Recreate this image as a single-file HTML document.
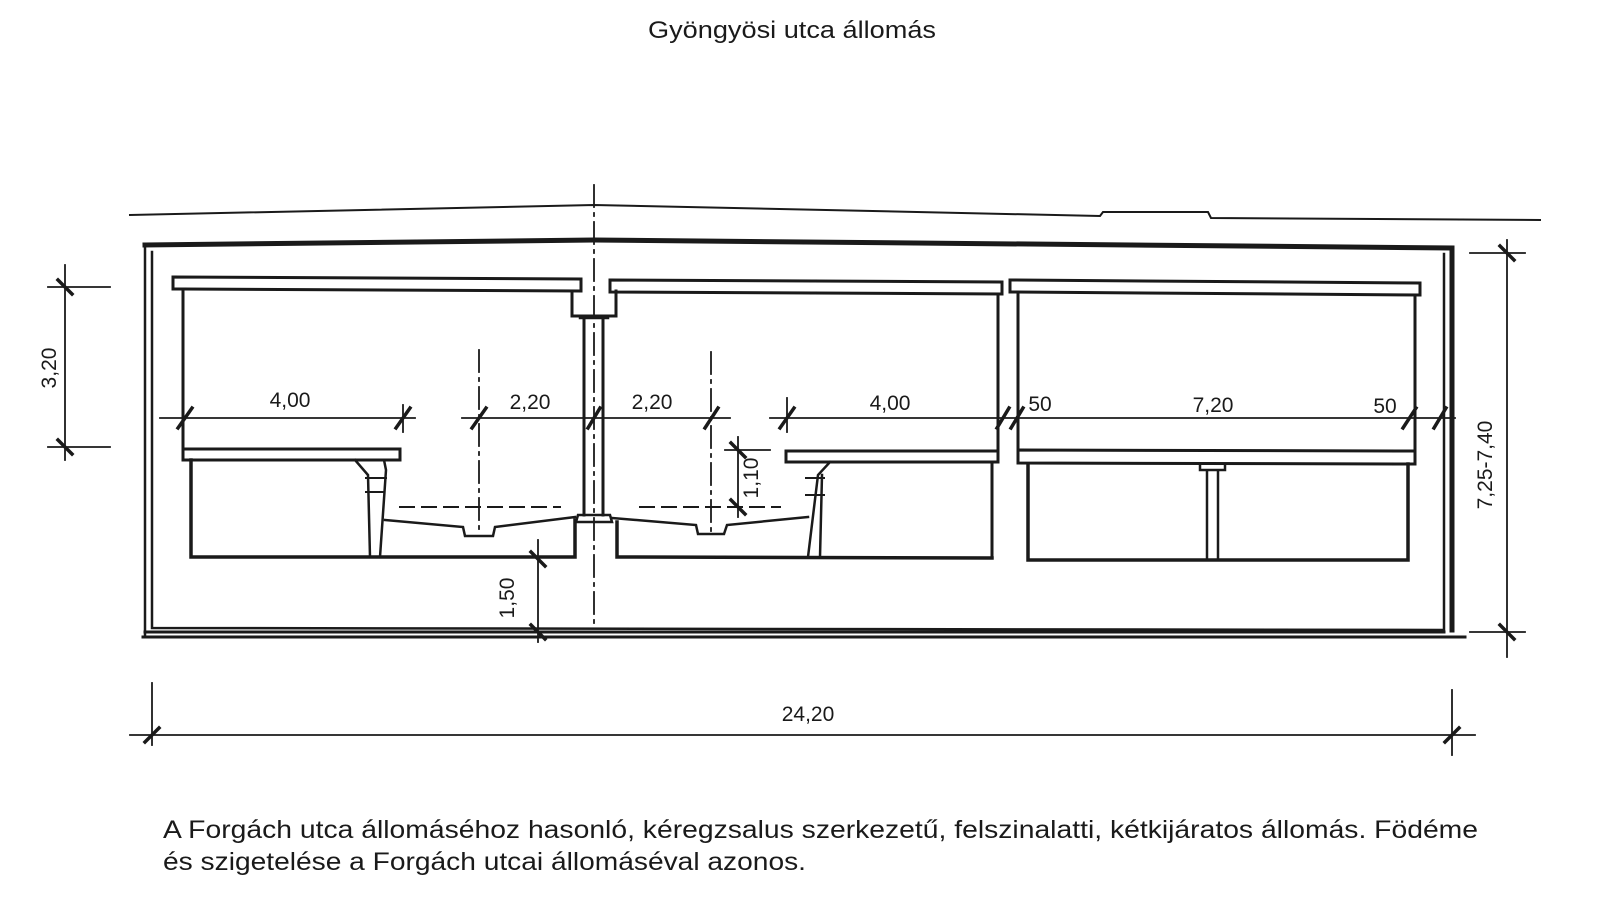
<!DOCTYPE html>
<html><head><meta charset="utf-8"><style>
html,body{margin:0;padding:0;background:#fff;}
svg{display:block}
text{font-family:"Liberation Sans",sans-serif;fill:#1a1a1a}
</style></head><body>
<svg width="1600" height="919" viewBox="0 0 1600 919" xmlns="http://www.w3.org/2000/svg">
<g stroke="#1a1a1a" fill="none" stroke-linecap="square">
<!-- ground line -->
<polyline points="130,215 594,205 1100,216 1103,212 1208,212 1211,218 1540,220" stroke-width="2"/>
<!-- outer box -->
<path d="M145,245 L594,240 L1452,248 L1452,630" stroke-width="5"/>
<path d="M145,245 L145,637" stroke-width="2.5"/>
<path d="M152,252 L152,628 L1444,630 L1444,254" stroke-width="2.5"/>
<path d="M143,637 L1465,637" stroke-width="3"/>
<path d="M145,632 L1444,632" stroke-width="3"/>
<!-- center axis -->
<line x1="594" y1="185" x2="594" y2="625" stroke-width="1.8" stroke-dasharray="22,6,3,6"/>

<!-- LEFT MODULE -->
<path d="M173,277 L581,279 L581,291 L183,289 L173,289 Z" stroke-width="3"/>
<line x1="183" y1="289" x2="183" y2="458" stroke-width="3"/>
<path d="M183,449 L400,449 L400,460 L183,460 Z" stroke-width="3"/>
<path d="M191,460 L191,557 L575,557 L575,520" stroke-width="3.5"/>
<path d="M355,460 L368,475 L370,557 M384,460 L386,470 L380,557" stroke-width="2.5"/>
<path d="M366,478 L386,478 M366,492 L384,492" stroke-width="2"/>
<path d="M385,520 L463,527 L465,536 L493,536 L495,527 L575,517" stroke-width="2.5"/>
<line x1="400" y1="507" x2="560" y2="507" stroke-width="2" stroke-dasharray="14,8"/>
<line x1="479" y1="350" x2="479" y2="535" stroke-width="1.8" stroke-dasharray="22,6,3,6"/>
<!-- center column -->
<path d="M572,291 L572,316 L616,316 L616,291" stroke-width="3"/>
<path d="M584,318 L584,515 M603,318 L603,515" stroke-width="3"/>
<path d="M580,318 L608,318 M578,515 L610,515 L612,522 L576,522 Z" stroke-width="2.5"/>
<path d="M617,522 L617,557 L992,558" stroke-width="3.5"/>

<!-- MIDDLE MODULE -->
<path d="M610,280 L1002,282 L1002,294 L610,292 Z" stroke-width="3"/>
<line x1="998" y1="294" x2="998" y2="462" stroke-width="3"/>
<path d="M786,451 L998,451 L998,462 L786,462 Z" stroke-width="3"/>
<line x1="992" y1="462" x2="992" y2="558" stroke-width="3"/>
<path d="M830,462 L818,475 L808,557 M822,475 L820,557" stroke-width="2.5"/>
<path d="M806,478 L824,478 M806,495 L824,495" stroke-width="2"/>
<path d="M612,518 L696,525 L698,534 L724,534 L727,525 L808,517" stroke-width="2.5"/>
<line x1="640" y1="507" x2="780" y2="507" stroke-width="2" stroke-dasharray="14,8"/>
<line x1="711" y1="352" x2="711" y2="535" stroke-width="1.8" stroke-dasharray="22,6,3,6"/>

<!-- RIGHT MODULE -->
<path d="M1010,280 L1420,283 L1420,295 L1010,292 Z" stroke-width="3"/>
<path d="M1018,292 L1018,462 M1415,295 L1415,462" stroke-width="3"/>
<path d="M1018,450 L1415,451 L1415,464 L1018,463 Z" stroke-width="3"/>
<path d="M1028,464 L1028,560 L1408,560 L1408,464" stroke-width="3.5"/>
<path d="M1200,464 L1200,470 L1225,470 L1225,464 M1207,470 L1207,560 M1218,470 L1218,560" stroke-width="2.5"/>

<!-- dimension lines -->
<g stroke-width="1.8">
<line x1="160" y1="418" x2="415" y2="418"/>
<line x1="462" y1="418" x2="730" y2="418"/>
<line x1="770" y1="418" x2="1455" y2="418"/>
<line x1="403" y1="405" x2="403" y2="432"/>
<line x1="787" y1="398" x2="787" y2="432"/>
<line x1="65" y1="265" x2="65" y2="460"/>
<line x1="48" y1="287" x2="110" y2="287"/>
<line x1="48" y1="447" x2="110" y2="447"/>
<line x1="738" y1="437" x2="738" y2="517"/>
<line x1="725" y1="450" x2="770" y2="450"/>
<line x1="538" y1="540" x2="538" y2="642"/>
<line x1="1507" y1="240" x2="1507" y2="657"/>
<line x1="1470" y1="253" x2="1525" y2="253"/>
<line x1="1470" y1="632" x2="1525" y2="632"/>
<line x1="130" y1="735" x2="1475" y2="735"/>
<line x1="152" y1="683" x2="152" y2="745"/>
<line x1="1452" y1="690" x2="1452" y2="755"/>
</g>
<g stroke-width="3.5">
<line x1="178" y1="428" x2="192" y2="408"/>
<line x1="396" y1="428" x2="410" y2="408"/>
<line x1="472" y1="428" x2="486" y2="408"/>
<line x1="588" y1="428" x2="600" y2="408"/>
<line x1="705" y1="428" x2="718" y2="408"/>
<line x1="780" y1="428" x2="794" y2="408"/>
<line x1="997" y1="428" x2="1009" y2="408"/>
<line x1="1011" y1="428" x2="1023" y2="408"/>
<line x1="1403" y1="428" x2="1416" y2="408"/>
<line x1="1434" y1="428" x2="1446" y2="408"/>
<line x1="58" y1="280" x2="72" y2="294"/>
<line x1="58" y1="440" x2="72" y2="454"/>
<line x1="731" y1="443" x2="745" y2="457"/>
<line x1="731" y1="500" x2="745" y2="514"/>
<line x1="531" y1="552" x2="545" y2="566"/>
<line x1="531" y1="625" x2="545" y2="639"/>
<line x1="1500" y1="246" x2="1514" y2="260"/>
<line x1="1500" y1="625" x2="1514" y2="639"/>
<line x1="145" y1="742" x2="159" y2="728"/>
<line x1="1445" y1="742" x2="1459" y2="728"/>
</g>
</g>
<g font-size="21">
<text x="290" y="407" text-anchor="middle">4,00</text>
<text x="530" y="409" text-anchor="middle">2,20</text>
<text x="652" y="409" text-anchor="middle">2,20</text>
<text x="890" y="410" text-anchor="middle">4,00</text>
<text x="1040" y="411" text-anchor="middle">50</text>
<text x="1213" y="412" text-anchor="middle">7,20</text>
<text x="1385" y="413" text-anchor="middle">50</text>
<text x="808" y="721" text-anchor="middle">24,20</text>
<text transform="translate(56,368) rotate(-90)" text-anchor="middle">3,20</text>
<text transform="translate(758,478) rotate(-90)" text-anchor="middle">1,10</text>
<text transform="translate(514,598) rotate(-90)" text-anchor="middle">1,50</text>
<text transform="translate(1492,465) rotate(-90)" text-anchor="middle">7,25-7,40</text>
</g>
<text x="792" y="38" text-anchor="middle" font-size="24" textLength="288" lengthAdjust="spacingAndGlyphs">Gyöngyösi utca állomás</text>
<text x="163" y="838" font-size="25" textLength="1315" lengthAdjust="spacingAndGlyphs">A Forgách utca állomáséhoz hasonló, kéregzsalus szerkezetű, felszinalatti, kétkijáratos állomás. Födéme</text>
<text x="163" y="870" font-size="25" textLength="643" lengthAdjust="spacingAndGlyphs">és szigetelése a Forgách utcai állomáséval azonos.</text>
</svg>
</body></html>
